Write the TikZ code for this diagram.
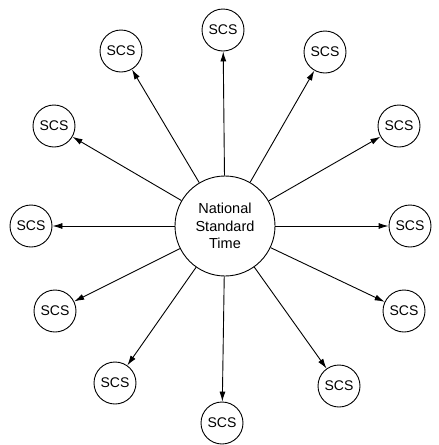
\documentclass[tikz,border=0pt]{standalone}
\usepackage{fontspec}
\setmainfont{Liberation Sans}
\usetikzlibrary{arrows.meta}
\begin{document}
\begin{tikzpicture}[x=1pt,y=-1pt,
  hub/.style={circle,draw,line width=0.9pt,minimum size=100pt,inner sep=0pt,align=center,font=\fontsize{14.5}{17.5}\selectfont},
  sat/.style={circle,draw,line width=0.9pt,minimum size=42pt,inner sep=0pt,font=\fontsize{14}{16}\selectfont},
  link/.style={line width=0.9pt,-{Latex[length=10pt,width=6pt]}}]
\useasboundingbox (0,0) rectangle (439,445);
\node[hub] (c) at (225,226) {National\\Standard\\Time};
\node[sat] (s1) at (223,30) {SCS};
\node[sat] (s2) at (121,51) {SCS};
\node[sat] (s3) at (325,52) {SCS};
\node[sat] (s4) at (54,126) {SCS};
\node[sat] (s5) at (399,126) {SCS};
\node[sat] (s6) at (31,226) {SCS};
\node[sat] (s7) at (410,226) {SCS};
\node[sat] (s8) at (55,311) {SCS};
\node[sat] (s9) at (404,311) {SCS};
\node[sat] (s10) at (115,383) {SCS};
\node[sat] (s11) at (339,386) {SCS};
\node[sat] (s12) at (222,423) {SCS};
\foreach \i in {1,...,12} {\draw[link] (c) -- (s\i);}
\end{tikzpicture}
\end{document}
